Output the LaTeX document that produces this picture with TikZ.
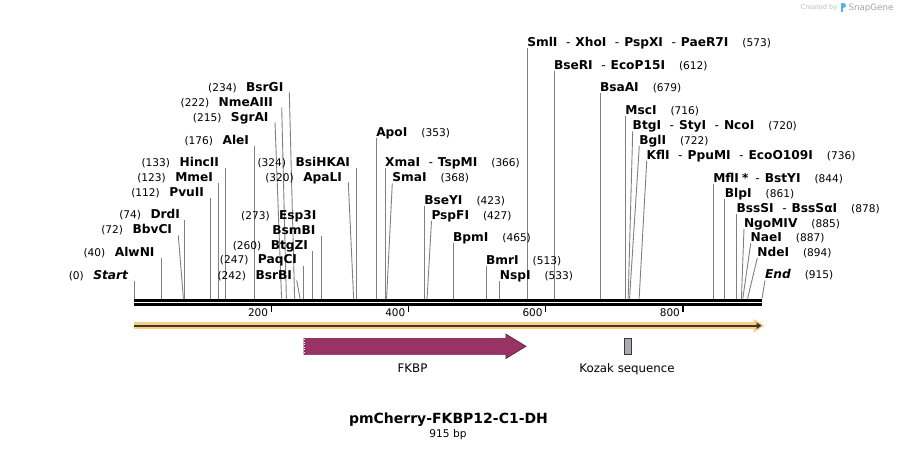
\documentclass[tikz,border=0pt]{standalone}
\usepackage{fontspec}
\setmainfont{DejaVu Sans}
\usetikzlibrary{arrows.meta}
\definecolor{cutgray}{RGB}{128,128,128}
\definecolor{fkbp}{RGB}{153,51,102}
\definecolor{fkbpedge}{RGB}{95,25,60}
\definecolor{orangeband}{RGB}{250,206,128}
\definecolor{darkline}{RGB}{60,55,50}
\definecolor{kozak}{RGB}{166,172,178}
\definecolor{logoblue}{RGB}{80,180,230}
\definecolor{credgray}{RGB}{190,190,190}
\definecolor{snapgray}{RGB}{165,165,165}
\tikzset{
  nm/.style={font=\fontsize{12.2}{14}\selectfont\bfseries, inner sep=0pt, outer sep=0pt},
  nmit/.style={font=\fontsize{12.2}{14}\selectfont\bfseries\itshape, inner sep=0pt, outer sep=0pt},
  num/.style={font=\fontsize{10.6}{13}\selectfont, inner sep=0pt, outer sep=0pt},
  cut/.style={draw=cutgray, line width=0.9pt},
  ticklbl/.style={font=\fontsize{10.5}{13}\selectfont, inner sep=0pt, anchor=base east},
  featlbl/.style={font=\fontsize{11.8}{14}\selectfont, inner sep=0pt, anchor=base},
}
\newcommand\dsh{\hspace{8.5pt}{\mdseries-}\hspace{5pt}}
% left label: id, name, name right x, yc, number
\newcommand\LL[5]{%
  \node[nm, anchor=base east] (#1) at (#3,{#4+4.5}) {#2};
  \node[num, anchor=base east] (#1n) at ([xshift=-9.5pt]#1.base west) {#5};}
% right label: id, name, name left x, yc, number
\newcommand\RL[5]{%
  \node[nm, anchor=base west] (#1) at (#3,{#4+4.5}) {#2};
  \node[num, anchor=base west] (#1n) at ([xshift=14pt]#1.base east) {#5};}
% cut line: id, top x, top y, position
\newcommand\Cut[4]{%
  \coordinate (#1t) at (#2,#3);
  \coordinate (#1b) at ({134+0.68634*#4},298.6);
  \draw[cut] (#1t) -- (#1b);}
% vertical cut line: id, top y, position
\newcommand\VCut[3]{%
  \coordinate (#1t) at ({134+0.68634*#3},#2);
  \coordinate (#1b) at ({134+0.68634*#3},298.6);
  \draw[cut] (#1t) -- (#1b);}
\begin{document}
\begin{tikzpicture}[x=1pt,y=-1pt]
\useasboundingbox (0,0) rectangle (897,449);
\fill[white] (0,0) rectangle (897,449);

% ---------- cut lines ----------
\Cut{bsrgi}{289.3}{92.5}{234}
\Cut{nmeaiii}{281.7}{107.5}{222}
\Cut{sgrai}{275}{122.5}{215}
\VCut{alei}{146}{176}
\VCut{hincii}{168.3}{133}
\VCut{mmei}{183.5}{123}
\VCut{pvuii}{198}{112}
\VCut{drdi}{220.5}{74}
\Cut{bbvci}{178.3}{235.5}{72}
\VCut{alwni}{257.7}{40}
\VCut{start}{280.5}{0}
\VCut{bsihkai}{168.3}{324}
\Cut{apali}{348.3}{182.5}{320}
\VCut{bsmbi}{236}{273}
\VCut{btgzi}{250.7}{260}
\VCut{paqci}{265.5}{247}
\Cut{bsrbi}{296.7}{280.5}{242}

\VCut{apoi}{138.3}{353}
\VCut{xmai}{168.5}{366}
\Cut{smai}{392.3}{183.3}{368}
\VCut{bseyi}{206}{423}
\Cut{pspfi}{431.5}{221}{427}
\VCut{bpmi}{243}{465}
\VCut{bmri}{266}{513}
\VCut{nspi}{281}{533}
\VCut{smli}{48.5}{573}
\VCut{bseri}{71.5}{612}
\VCut{bsaai}{93.5}{679}
\VCut{msci}{116}{716}
\Cut{btgi}{632.7}{131.5}{720}
\Cut{bgli}{639.3}{146}{722}
\Cut{kfli}{646.7}{161}{736}
\VCut{mfli}{184}{844}
\VCut{blpi}{199.5}{861}
\VCut{bsssi}{214.5}{878}
\Cut{ngomiv}{744}{228.5}{885}
\Cut{naei}{750.7}{243.5}{887}
\Cut{ndei}{757.3}{258}{894}
\Cut{endc}{765}{280.5}{915}

% ---------- left labels ----------
\LL{lbsrgi}{BsrGI}{283.3}{87}{(234)}
\LL{lnmeaiii}{NmeAIII}{273}{102}{(222)}
\LL{lsgrai}{SgrAI}{268.5}{117}{(215)}
\LL{lalei}{AleI}{249}{140}{(176)}
\LL{lhincii}{HincII}{219}{162.3}{(133)}
\LL{lmmei}{MmeI}{213}{177.5}{(123)}
\LL{lpvuii}{PvuII}{204}{192}{(112)}
\LL{ldrdi}{DrdI}{180}{214.3}{(74)}
\LL{lbbvci}{BbvCI}{172}{229.5}{(72)}
\LL{lalwni}{AlwNI}{154.5}{251.7}{(40)}
\node[nmit, anchor=base east] (lstart) at (128,{275+4.5}) {Start};
\node[num, anchor=base east] (lstartn) at ([xshift=-9.5pt]lstart.base west) {(0)};
\LL{lbsihkai}{BsiHKAI}{350}{162.3}{(324)}
\LL{lapali}{ApaLI}{342}{177}{(320)}
\LL{lesp}{Esp3I}{316.5}{214.8}{(273)}
\node[nm, anchor=base east] (lbsmbi) at (315.5,{229.8+4.5}) {BsmBI};
\LL{lbtgzi}{BtgZI}{308}{244.8}{(260)}
\LL{lpaqci}{PaqCI}{297}{259.5}{(247)}
\LL{lbsrbi}{BsrBI}{292}{275}{(242)}

% ---------- right labels ----------
\RL{rapoi}{ApoI}{376.3}{132.3}{(353)}
\RL{rxmai}{XmaI\dsh TspMI}{385.2}{162.3}{(366)}
\RL{rsmai}{SmaI}{392.3}{177.3}{(368)}
\RL{rbseyi}{BseYI}{424.3}{200}{(423)}
\RL{rpspfi}{PspFI}{431.5}{215}{(427)}
\RL{rbpmi}{BpmI}{453.1}{237.3}{(465)}
\RL{rbmri}{BmrI}{486.1}{260}{(513)}
\RL{rnspi}{NspI}{499.8}{275}{(533)}
\RL{rsmli}{SmlI\dsh XhoI\dsh PspXI\dsh PaeR7I}{527.3}{42.3}{(573)}
\RL{rbseri}{BseRI\dsh EcoP15I}{554}{65}{(612)}
\RL{rbsaai}{BsaAI}{600}{87.3}{(679)}
\RL{rmsci}{MscI}{625.4}{110}{(716)}
\RL{rbtgi}{BtgI\dsh StyI\dsh NcoI}{632.7}{125}{(720)}
\RL{rbgli}{BglI}{639.3}{140}{(722)}
\RL{rkfli}{KflI\dsh PpuMI\dsh EcoO109I}{646.7}{155}{(736)}
\RL{rmfli}{MflI\hspace{3pt}*\hspace{7pt}{\mdseries-}\hspace{5pt}BstYI}{713.3}{177.7}{(844)}
\RL{rblpi}{BlpI}{724.9}{193.3}{(861)}
\RL{rbsssi}{BssSI\dsh BssSαI}{736.6}{208.3}{(878)}
\RL{rngomiv}{NgoMIV}{744}{222.7}{(885)}
\RL{rnaei}{NaeI}{750.7}{237.3}{(887)}
\RL{rndei}{NdeI}{757.3}{251.7}{(894)}
\node[nmit, anchor=base west] (rend) at (765,{274.3+4.5}) {End};
\node[num, anchor=base west] (rendn) at ([xshift=14pt]rend.base east) {(915)};

% ---------- backbone ----------
\fill[black] (134,299) rectangle (762,301.8);
\fill[black] (134,302.9) rectangle (762,305.8);
\foreach \p/\t in {200/t200,400/t400,600/t600,800/t800}{
  \coordinate (\t) at ({134+0.68634*\p},305.8);
  \draw[line width=1.3pt] (\t) -- ++(0,6);
  \node[ticklbl] at ([xshift=-3pt,yshift=-10.7pt]\t) {\p};
}

% ---------- orange sequence arrow ----------
\draw[orangeband, line width=6.5pt] (134,325.7) -- (756,325.7);
\filldraw[fill=orangeband, draw=orangeband, line width=1pt, line join=round]
  (754,319.8) -- (763.5,325.7) -- (754,331.6) -- cycle;
\draw[darkline, line width=1.7pt, -{Triangle[length=5pt,width=6.5pt]}] (134,325.7) -- (761.5,325.7);

% ---------- features ----------
\filldraw[fill=fkbp, draw=fkbpedge, line width=0.6pt]
  (304,338.3) -- (505.8,338.3) -- (505.8,334) -- (526,346.3) -- (505.8,358.6) -- (505.8,354.3) -- (304,354.3) -- cycle;
\draw[white, dotted, line width=0.6pt] (304.7,339) -- (304.7,353.6);
\filldraw[fill=kozak, draw=darkline, line width=0.6pt] (624.5,338.3) rectangle (631.5,354.3);
\node[featlbl] (fkbplbl) at (412.5,372.5) {FKBP};
\node[featlbl] (kozlbl) at (627,372.5) {Kozak sequence};

% ---------- title ----------
\node[font=\fontsize{14}{16}\selectfont\bfseries, inner sep=0pt, anchor=base] (title) at (448.5,423.2) {pmCherry-FKBP12-C1-DH};
\node[font=\fontsize{10.6}{12}\selectfont, inner sep=0pt, anchor=base] (size) at (448,437) {915 bp};

% ---------- credit ----------
\node[font=\fontsize{6.6}{8}\selectfont, text=credgray, inner sep=0pt, anchor=base east] (cred) at (837.5,10) {Created by};
\fill[logoblue] (841,3.2) rectangle (843.4,12);
\fill[logoblue] (843.4,3.2) .. controls (847.2,3.2) and (847.2,8.4) .. (843.4,8.4) -- cycle;
\node[font=\fontsize{8.7}{10}\selectfont, text=snapgray, inner sep=0pt, anchor=base west] (snap) at (848.3,10.3) {SnapGene};
\end{tikzpicture}
\end{document}
